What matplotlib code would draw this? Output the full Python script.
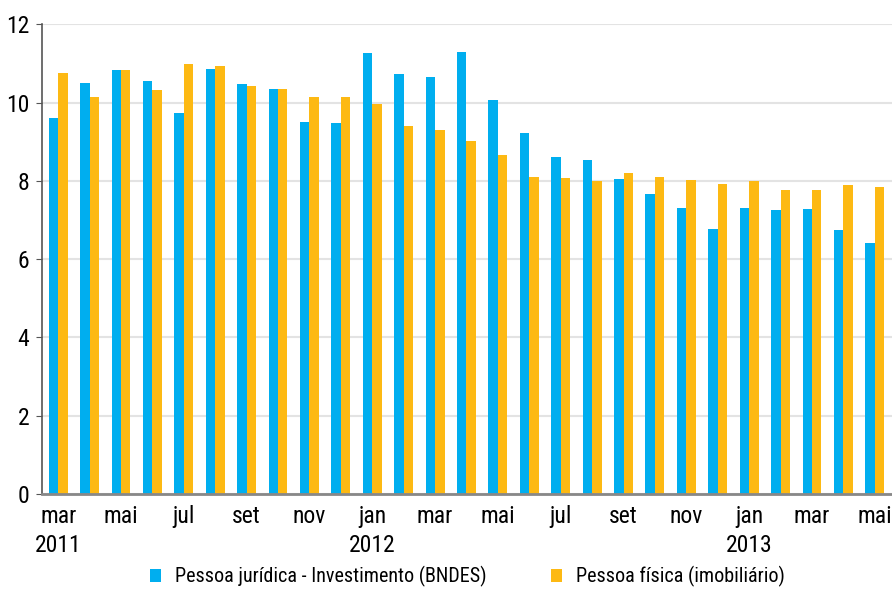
import numpy as np
import matplotlib
matplotlib.use("Agg")
from matplotlib import pyplot as plt

plt.rcParams["font.family"] = ["Roboto Condensed", "DejaVu Sans"]

months = ["mar", "abr", "mai", "jun", "jul", "ago", "set", "out", "nov", "dez",
          "jan", "fev", "mar", "abr", "mai", "jun", "jul", "ago", "set", "out",
          "nov", "dez", "jan", "fev", "mar", "abr", "mai"]
years = {0: "2011", 10: "2012", 22: "2013"}

pj_bndes = [9.61, 10.50, 10.84, 10.55, 9.74, 10.86, 10.48, 10.35, 9.51, 9.48,
            11.27, 10.73, 10.65, 11.30, 10.07, 9.22, 8.61, 8.53, 8.05, 7.67,
            7.31, 6.77, 7.31, 7.26, 7.29, 6.75, 6.42]
pf_imob = [10.76, 10.14, 10.84, 10.32, 10.99, 10.94, 10.43, 10.35, 10.14, 10.14,
           9.96, 9.40, 9.30, 9.02, 8.66, 8.10, 8.07, 8.00, 8.20, 8.10,
           8.03, 7.92, 8.00, 7.77, 7.77, 7.90, 7.85]

blue = "#00aeef"
orange = "#fdb913"

fig = plt.figure(figsize=(8.92, 5.91), dpi=100)
ax = fig.add_axes([0.047, 0.164, 0.953, 0.795])

x = np.arange(len(months))
w = 0.3
ax.bar(x - w / 2, pj_bndes, w, color=blue, label="Pessoa jurídica - Investimento (BNDES)", zorder=3)
ax.bar(x + w / 2, pf_imob, w, color=orange, label="Pessoa física (imobiliário)", zorder=3)

ax.set_xlim(-0.52, 26.55)
ax.set_ylim(0, 12)
ax.set_yticks([0, 2, 4, 6, 8, 10, 12])
ax.yaxis.grid(True, color="#e3e3e3", linewidth=1.5, zorder=0)
ax.tick_params(axis="y", labelsize=17, length=4, color="#555555", pad=5)

ticks = list(range(0, len(months), 2))
labels = [months[i] + ("\n" + years[i] if i in years else "") for i in ticks]
ax.set_xticks(ticks)
ax.set_xticklabels(labels, fontsize=17, linespacing=1.3, va="top")
ax.tick_params(axis="x", length=0, pad=8)

for s in ["top", "right"]:
    ax.spines[s].set_visible(False)
ax.spines["left"].set_color("#555555")
ax.spines["left"].set_linewidth(1.2)
ax.spines["bottom"].set_color("#888888")
ax.spines["bottom"].set_linewidth(2)
ax.spines["bottom"].set_zorder(4)

fig.legend(loc="center", bbox_to_anchor=(0.524, 0.024), ncol=2, frameon=False,
           fontsize=14.5, handlelength=0.55, handleheight=0.6, columnspacing=3.2,
           handletextpad=0.7, borderpad=0.1)

fig.savefig("out.png", dpi=100)
